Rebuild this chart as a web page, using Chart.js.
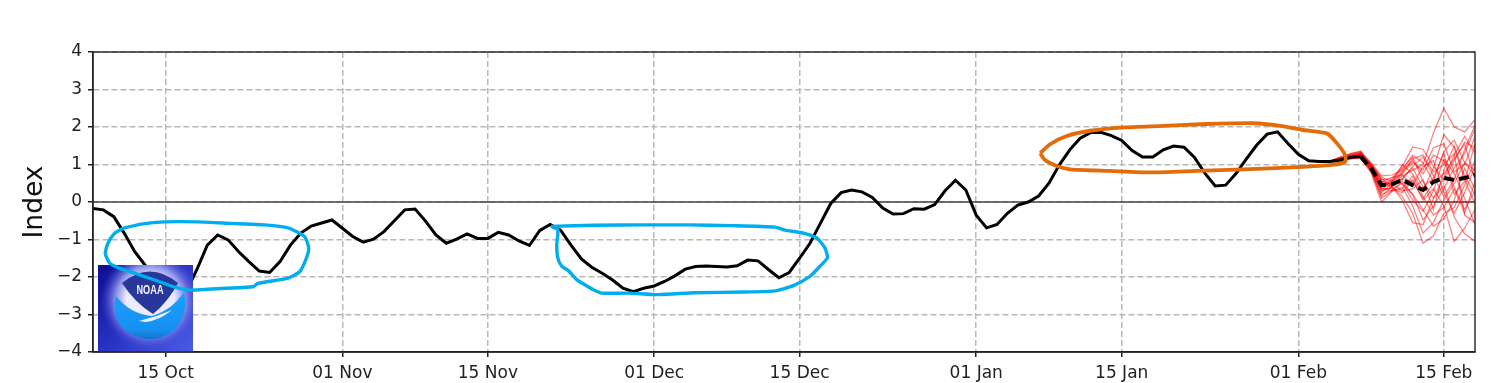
<!DOCTYPE html>
<html>
<head>
<meta charset="utf-8">
<title>Index</title>
<script src="https://cdn.jsdelivr.net/npm/chart.js@4/dist/chart.umd.min.js"></script>
<style>
    html, body { margin: 0; padding: 0; background: #fff; overflow: hidden; }
    canvas { display: block; filter: blur(0.45px); }
</style>
</head>
<body>
<canvas id="chart1" width="1497" height="383"></canvas>
<script>
// x is days since 08 Oct
const tickDays = [7, 24, 38, 54, 68, 85, 99, 116, 130];
const tickLabels = ['15 Oct', '01 Nov', '15 Nov', '01 Dec', '15 Dec', '01 Jan', '15 Jan', '01 Feb', '15 Feb'];
const yTicks = [-4, -3, -2, -1, 0, 1, 2, 3, 4];
const lastDay = 133;

// analysis, one value a day from day 0 (days 6-10 sit behind the logo, estimated)
const observed = [
    -0.17, -0.21, -0.39, -0.83, -1.32, -1.68, -1.95, -2.20, -2.42, -2.38,
    -1.80, -1.15, -0.88, -1.01, -1.32, -1.59, -1.84, -1.88, -1.59, -1.15,
    -0.83, -0.64, -0.56, -0.48, -0.70, -0.92, -1.07, -0.99, -0.79, -0.50,
    -0.21, -0.19, -0.51, -0.88, -1.10, -0.99, -0.85, -0.97, -0.97, -0.81,
    -0.88, -1.04, -1.16, -0.76, -0.60, -0.75, -1.15, -1.52, -1.74, -1.90,
    -2.08, -2.30, -2.39, -2.30, -2.24, -2.12, -1.97, -1.79, -1.72, -1.71,
    -1.72, -1.73, -1.70, -1.55, -1.57, -1.80, -2.02, -1.88, -1.50, -1.10,
    -0.57, -0.04, 0.25, 0.32, 0.27, 0.12, -0.16, -0.32, -0.31, -0.18,
    -0.19, -0.07, 0.30, 0.58, 0.32, -0.35, -0.69, -0.60, -0.30, -0.08,
    0.00, 0.16, 0.50, 0.99, 1.39, 1.70, 1.85, 1.86, 1.77, 1.64,
    1.37, 1.20, 1.20, 1.39, 1.49, 1.46, 1.19, 0.77, 0.43, 0.45,
    0.76, 1.15, 1.52, 1.81, 1.87, 1.56, 1.27, 1.10, 1.08, 1.08,
    1.12, 1.19, 1.21
];

// ensemble mean, from day 122
const forecastStart = 122;
const ensembleMean = [1.21, 0.90, 0.45, 0.47, 0.59, 0.45, 0.32, 0.54, 0.64, 0.59, 0.64, 0.72];

// ensemble members, from day 119
const memberStart = 119;
const member01 = [1.08, 1.18, 1.24, 1.26, 0.98, 0.55, 0.45, 0.70, 0.85, 1.00, 1.84, 2.50, 2.00, 1.87, 2.20];
const member02 = [1.08, 1.12, 1.30, 1.34, 1.02, 0.60, 0.62, 0.95, 1.47, 1.40, 0.95, 0.60, 1.10, 1.60, 1.45];
const member03 = [1.08, 1.05, 1.18, 1.22, 0.85, 0.10, 0.30, 0.55, 0.20, -0.48, -0.10, 0.35, 0.90, 1.30, 1.95];
const member04 = [1.08, 1.15, 1.20, 1.30, 0.90, 0.40, 0.55, 0.82, 1.10, 0.75, 1.25, 1.10, 0.40, -0.20, 0.30];
const member05 = [1.08, 1.10, 1.16, 1.16, 0.78, 0.00, 0.28, 0.40, -0.10, -0.83, -0.55, 0.05, 0.50, 1.05, 0.70];
const member06 = [1.08, 1.20, 1.28, 1.32, 1.04, 0.70, 0.72, 0.85, 1.25, 1.05, 0.55, 1.35, 1.65, 1.05, 0.85];
const member07 = [1.08, 1.14, 1.22, 1.24, 0.92, 0.30, 0.40, 0.15, -0.30, -1.10, -0.90, -0.30, -0.15, 0.45, 1.10];
const member08 = [1.08, 1.08, 1.20, 1.28, 0.95, 0.48, 0.50, 1.00, 0.75, 0.30, 0.90, 1.80, 1.45, 0.60, -0.05];
const member09 = [1.08, 1.16, 1.26, 1.30, 0.88, 0.35, 0.36, 0.25, 0.60, 0.05, 0.35, -0.10, -1.05, -0.70, -0.20];
const member10 = [1.08, 1.12, 1.18, 1.20, 1.00, 0.62, 0.45, 0.60, 0.95, 1.20, 0.70, 0.15, 0.60, 1.40, 2.05];
const member11 = [1.08, 1.10, 1.24, 1.26, 0.84, 0.20, 0.32, 0.50, 0.05, -0.25, 0.30, 1.15, 0.75, 0.10, -0.60];
const member12 = [1.08, 1.18, 1.22, 1.28, 0.96, 0.44, 0.60, 0.90, 1.20, 0.55, 0.10, 0.65, 1.25, 1.75, 1.30];
const member13 = [1.08, 1.06, 1.16, 1.22, 0.80, 0.15, 0.42, 0.05, -0.55, -0.60, 0.10, 0.45, -0.40, -0.85, -1.05];
const member14 = [1.08, 1.14, 1.28, 1.36, 1.00, 0.66, 0.55, 0.75, 1.05, 0.85, 1.45, 1.55, 0.80, 1.00, 1.75];
const member15 = [1.08, 1.10, 1.20, 1.24, 0.90, 0.38, 0.30, 0.35, 0.70, 0.15, -0.35, -0.15, 0.35, -0.30, 0.55];
const member16 = [1.08, 1.16, 1.22, 1.30, 0.94, 0.52, 0.66, 0.72, 0.45, 0.95, 1.10, 0.25, -0.30, 0.25, 0.95];
const member17 = [1.08, 1.12, 1.18, 1.18, 0.86, 0.25, 0.50, 0.30, 0.35, 0.60, -0.20, 0.85, 1.50, 0.70, 0.20];
const member18 = [1.08, 1.20, 1.26, 1.28, 0.98, 0.58, 0.38, 0.65, 0.90, 0.40, 0.65, 1.30, 0.20, 0.55, 1.55];
const member19 = [1.08, 1.08, 1.14, 1.20, 0.82, 0.32, 0.58, 0.48, 0.20, -0.20, -0.65, -0.45, 0.05, 0.90, 0.35];
const member20 = [1.08, 1.14, 1.24, 1.32, 0.92, 0.46, 0.44, 0.78, 1.15, 1.25, 0.80, 1.00, 1.30, -0.35, -0.55];
const member21 = [1.08, 1.10, 1.20, 1.26, 0.88, 0.42, 0.52, 0.60, 0.55, 0.10, 0.50, 0.75, 1.15, 1.55, 0.60];
const members = [member01, member02, member03, member04, member05, member06, member07, member08, member09, member10,
    member11, member12, member13, member14, member15, member16, member17, member18, member19, member20, member21];

// hand drawn loops, [day, index]
const blueLoopOct = [[2.89, -0.70], [4.65, -0.59], [6.90, -0.53], [10.11, -0.53], [13.31, -0.57], [16.53, -0.61],
    [18.77, -0.69], [20.38, -0.93], [20.76, -1.23], [20.53, -1.50], [19.89, -1.86], [18.77, -2.03], [15.88, -2.17],
    [15.40, -2.26], [12.68, -2.30], [9.46, -2.35], [7.86, -2.27], [5.94, -2.08], [4.01, -1.90], [2.57, -1.77],
    [1.61, -1.63], [1.18, -1.37], [1.44, -1.10], [2.09, -0.83], [2.89, -0.70]];
const blueLoopDec = [[44.08, -0.65], [48.32, -0.62], [53.13, -0.61], [57.30, -0.61], [61.47, -0.63], [65.64, -0.67],
    [66.60, -0.75], [68.21, -0.82], [69.65, -0.96], [70.45, -1.23], [70.67, -1.49], [69.97, -1.71], [69.01, -1.98],
    [67.40, -2.23], [65.64, -2.37], [62.75, -2.40], [57.94, -2.42], [54.41, -2.47], [51.52, -2.43], [48.96, -2.43],
    [48.15, -2.34], [47.35, -2.21], [46.55, -2.07], [45.75, -1.83], [45.11, -1.71], [44.73, -1.49], [44.63, -1.14],
    [44.73, -0.74], [44.08, -0.65]];
const orangeLoopJan = [[91.15, 1.30], [92.11, 1.54], [93.71, 1.76], [95.96, 1.90], [99.16, 1.99], [103.01, 2.03],
    [107.19, 2.08], [111.68, 2.10], [114.25, 2.03], [116.49, 1.92], [118.74, 1.83], [119.70, 1.57], [120.50, 1.25],
    [120.50, 1.07], [119.22, 0.99], [115.85, 0.93], [110.71, 0.87], [106.22, 0.83], [101.73, 0.79], [97.88, 0.83],
    [94.03, 0.87], [92.75, 0.96], [91.62, 1.12], [91.15, 1.30]];

const toPoints = (values, start) => values.map((v, i) => ({ x: start + i, y: v }));
const loopPoints = loop => loop.map(p => ({ x: p[0], y: p[1] }));

function drawLogo(ctx) {
    const x = 98, y = 265, w = 95, h = 87;
    ctx.save();
    ctx.beginPath();
    ctx.rect(x, y, w, h);
    ctx.clip();

    let bg = ctx.createLinearGradient(x, y, x + w, y + h);
    bg.addColorStop(0, '#0c0c90');
    bg.addColorStop(0.5, '#2a34c4');
    bg.addColorStop(1, '#4c5ce6');
    ctx.fillStyle = bg;
    ctx.fillRect(x, y, w, h);

    let glow = ctx.createRadialGradient(150, 300, 24, 150, 300, 50);
    glow.addColorStop(0, 'rgba(235,235,252,1)');
    glow.addColorStop(0.4, 'rgba(160,165,240,0.85)');
    glow.addColorStop(1, 'rgba(60,70,210,0)');
    ctx.fillStyle = glow;
    ctx.fillRect(x, y, w, h);

    // dark upper part of the emblem
    ctx.fillStyle = '#27379a';
    ctx.beginPath();
    ctx.moveTo(122, 283);
    ctx.quadraticCurveTo(150, 260, 178, 283);
    ctx.quadraticCurveTo(168, 302, 153, 314);
    ctx.quadraticCurveTo(135, 303, 122, 283);
    ctx.fill();

    // light blue lower part
    let sea = ctx.createLinearGradient(0, 290, 0, 340);
    sea.addColorStop(0, '#1aa0ff');
    sea.addColorStop(0.8, '#1790f0');
    sea.addColorStop(1, '#1070d0');
    ctx.fillStyle = sea;
    ctx.beginPath();
    ctx.moveTo(116, 296);
    ctx.bezierCurveTo(108, 326, 134, 340, 152, 339);
    ctx.bezierCurveTo(174, 338, 190, 318, 184, 292);
    ctx.quadraticCurveTo(172, 310, 152, 316);
    ctx.quadraticCurveTo(130, 314, 116, 296);
    ctx.fill();

    // white swoosh
    ctx.fillStyle = '#e8f4ff';
    ctx.beginPath();
    ctx.moveTo(139, 321);
    ctx.quadraticCurveTo(156, 317, 172, 310);
    ctx.quadraticCurveTo(160, 320, 146, 322);
    ctx.fill();

    ctx.fillStyle = '#f4f4ff';
    ctx.font = 'bold 12px "Liberation Sans"';
    ctx.textAlign = 'center';
    ctx.textBaseline = 'middle';
    ctx.fillText('NOAA', 150, 291, 27);
    ctx.restore();
}

const logoPlugin = {
    id: 'logo',
    // the logo covers the analysis line but stays under the drawn loops
    afterDatasetDraw(chart, args) {
        if (chart.data.datasets[args.index].label === 'Analysis') {
            drawLogo(chart.ctx);
        }
    }
};

const framePlugin = {
    id: 'frame',
    afterDraw(chart) {
        const a = chart.chartArea, ctx = chart.ctx;
        ctx.save();
        ctx.strokeStyle = '#222';
        ctx.lineWidth = 1.4;
        ctx.strokeRect(a.left, a.top, a.right - a.left, a.bottom - a.top);
        ctx.restore();
    }
};

const memberSets = members.map((m, i) => ({
    label: 'Member ' + (i + 1),
    data: toPoints(m, memberStart),
    borderColor: 'rgba(255, 0, 0, 0.5)',
    borderWidth: 1.25,
    order: 6
}));

const ctx1 = document.getElementById('chart1').getContext('2d');
new Chart(ctx1, {
    type: 'line',
    data: {
        datasets: [
            {
                label: 'Zero',
                data: [{ x: 0, y: 0 }, { x: lastDay, y: 0 }],
                borderColor: '#444',
                borderWidth: 1.3,
                order: 7
            },
            ...memberSets,
            {
                label: 'Analysis',
                data: toPoints(observed, 0),
                borderColor: '#000',
                borderWidth: 3,
                order: 4
            },
            {
                label: 'Ensemble mean',
                data: toPoints(ensembleMean, forecastStart),
                borderColor: '#000',
                borderWidth: 4,
                borderDash: [10, 5],
                order: 3
            },
            {
                label: 'Oct loop',
                data: loopPoints(blueLoopOct),
                borderColor: '#00aeef',
                borderWidth: 3.4,
                tension: 0.2,
                order: 1
            },
            {
                label: 'Dec loop',
                data: loopPoints(blueLoopDec),
                borderColor: '#00aeef',
                borderWidth: 3.4,
                tension: 0.2,
                order: 1
            },
            {
                label: 'Jan loop',
                data: loopPoints(orangeLoopJan),
                borderColor: '#e36c0a',
                borderWidth: 3.8,
                tension: 0.2,
                order: 1
            }
        ]
    },
    options: {
        responsive: false,
        animation: false,
        layout: { padding: { top: 52, right: 22, left: 0, bottom: 0 } },
        elements: { point: { radius: 0 }, line: { borderCapStyle: 'butt' } },
        plugins: { legend: { display: false }, tooltip: { enabled: false } },
        scales: {
            x: {
                type: 'linear',
                min: 0,
                max: lastDay,
                afterFit: scale => { scale.height = 31; },
                afterBuildTicks: scale => { scale.ticks = tickDays.map(d => ({ value: d })); },
                grid: {
                    color: '#b8b8b8',
                    lineWidth: 1.5,
                    tickColor: '#222',
                    tickLength: 5,
                    tickBorderDash: [6, 3]
                },
                border: { dash: [6, 3], color: '#222', width: 1.4 },
                ticks: {
                    autoSkip: false,
                    maxRotation: 0,
                    padding: 6,
                    color: '#222',
                    font: { family: 'DejaVu Sans', size: 17 },
                    callback: v => tickLabels[tickDays.indexOf(v)]
                }
            },
            y: {
                min: -4,
                max: 4,
                afterFit: scale => { scale.width = 93; },
                afterBuildTicks: scale => { scale.ticks = yTicks.map(v => ({ value: v })); },
                grid: {
                    color: '#b8b8b8',
                    lineWidth: 1.5,
                    tickColor: '#222',
                    tickLength: 5
                },
                border: { dash: [6, 3], color: '#222', width: 1.4 },
                title: {
                    display: true,
                    text: 'Index',
                    color: '#111',
                    padding: { top: 19, bottom: 0 },
                    font: { family: 'DejaVu Sans', size: 26.5 }
                },
                ticks: {
                    padding: 6,
                    color: '#222',
                    font: { family: 'DejaVu Sans', size: 17 },
                    callback: v => String(v).replace('-', '\u2212')
                }
            }
        }
    },
    plugins: [logoPlugin, framePlugin]
});
</script>
</body>
</html>
